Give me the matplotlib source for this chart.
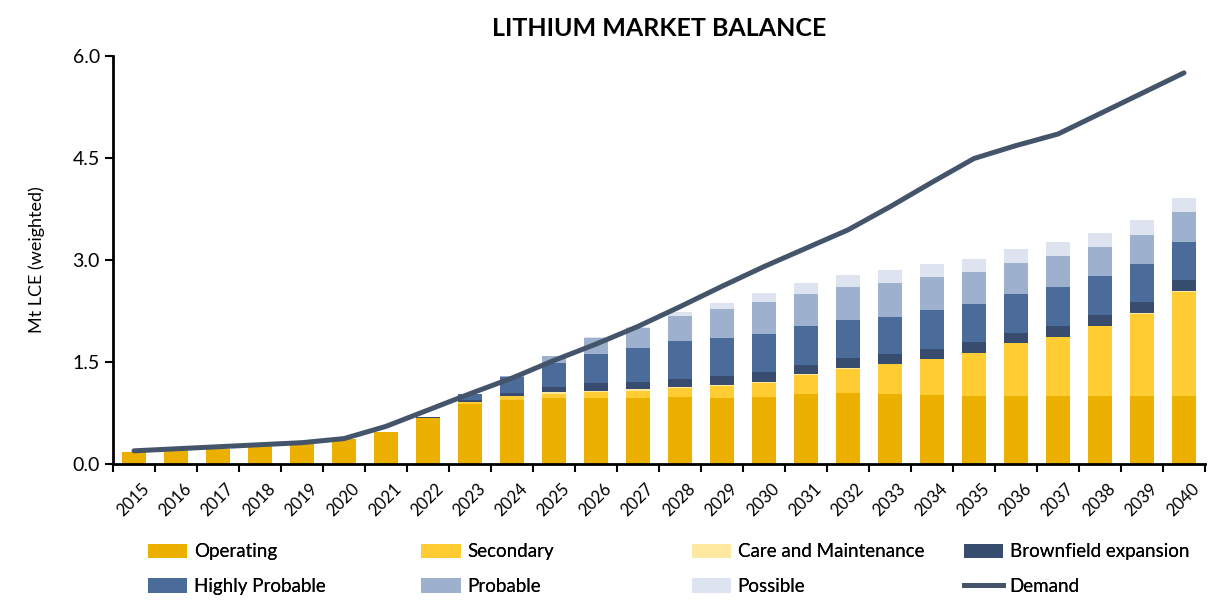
import matplotlib.pyplot as plt
import numpy as np
from matplotlib.patches import Patch
from matplotlib.lines import Line2D
from matplotlib.transforms import ScaledTranslation

plt.rcParams['font.family'] = ['Lato', 'DejaVu Sans']

#Define input arrays
years = [str(y) for y in range(2015, 2041)]

operating = [0.17, 0.20, 0.22, 0.26, 0.29, 0.36, 0.47, 0.67, 0.88, 0.94, 0.97, 0.97, 0.97,
             0.98, 0.97, 0.98, 1.03, 1.04, 1.03, 1.01, 1.00, 1.00, 1.00, 1.00, 1.00, 1.00]
secondary = [0, 0, 0, 0, 0, 0, 0, 0.005, 0.03, 0.05, 0.06, 0.09, 0.10,
             0.14, 0.18, 0.21, 0.27, 0.36, 0.43, 0.525, 0.63, 0.77, 0.86, 1.02, 1.21, 1.53]
care = [0, 0, 0, 0, 0, 0, 0, 0, 0, 0.01, 0.03, 0.015, 0.025,
        0.01, 0.005, 0.01, 0.02, 0.01, 0.005, 0.005, 0.005, 0.005, 0.005, 0.005, 0.005, 0.005]
brownfield = [0, 0, 0, 0.03, 0.05, 0, 0, 0.01, 0.03, 0.04, 0.075, 0.12, 0.105,
              0.12, 0.135, 0.15, 0.13, 0.145, 0.145, 0.15, 0.16, 0.145, 0.165, 0.165, 0.165, 0.165]
highly_probable = [0, 0, 0, 0, 0, 0, 0, 0, 0.08, 0.23, 0.34, 0.425, 0.50,
                   0.555, 0.56, 0.56, 0.58, 0.56, 0.555, 0.57, 0.56, 0.58, 0.57, 0.57, 0.56, 0.56]
probable = [0, 0, 0, 0, 0, 0, 0, 0, 0.01, 0.02, 0.105, 0.235, 0.30,
            0.365, 0.43, 0.47, 0.47, 0.485, 0.50, 0.49, 0.47, 0.45, 0.455, 0.43, 0.42, 0.44]
possible = [0, 0, 0, 0, 0, 0, 0, 0, 0, 0, 0.01, 0.015, 0.01,
            0.06, 0.085, 0.13, 0.16, 0.18, 0.18, 0.19, 0.19, 0.21, 0.205, 0.20, 0.22, 0.21]
demand = [0.19, 0.22, 0.25, 0.28, 0.31, 0.37, 0.55, 0.79, 1.03, 1.26, 1.52, 1.76, 2.02,
          2.31, 2.61, 2.90, 3.17, 3.44, 3.78, 4.14, 4.49, 4.68, 4.85, 5.15, 5.45, 5.75]

series = [
    ("Operating", operating, "#EBB000"),
    ("Secondary", secondary, "#FFCC33"),
    ("Care and Maintenance", care, "#FFE8A0"),
    ("Brownfield expansion", brownfield, "#374C6E"),
    ("Highly Probable", highly_probable, "#4B6B9B"),
    ("Probable", probable, "#9DB0CE"),
    ("Possible", possible, "#DDE4EF"),
]
demand_color = "#44546A"

x = np.arange(len(years))

fig = plt.figure(figsize=(12.19, 6.07), dpi=100)
ax = fig.add_axes([0.0927, 0.236, 0.8958, 0.672])

#stacked bars
bottom = np.zeros(len(years))
for name, vals, col in series:
    vals = np.array(vals)
    ax.bar(x, vals, 0.55, bottom=bottom, color=col, edgecolor='none')
    bottom += vals

ax.plot(x, demand, color=demand_color, lw=3.6, solid_capstyle='round', zorder=3)

ax.set_xlim(-0.5, len(years) - 0.5)
ax.set_ylim(0, 6)
ax.set_yticks([0, 1.5, 3.0, 4.5, 6.0])
ax.set_yticklabels(["0.0", "1.5", "3.0", "4.5", "6.0"], fontsize=14)
ax.tick_params(axis='y', length=6, width=1.5, direction='out')
ax.set_ylabel("Mt LCE (weighted)", fontsize=13, labelpad=20)

ax.set_xticks(np.arange(-0.5, len(years), 1))
ax.set_xticklabels([])
ax.tick_params(axis='x', which='major', length=6, width=1.5, direction='out')
ax.set_xticks(x, minor=True)
ax.set_xticklabels(years, minor=True, rotation=45, ha='right', va='top',
                   rotation_mode='anchor', fontsize=12)
ax.tick_params(axis='x', which='minor', length=0, pad=12)
shift = ScaledTranslation(7 / 100, 0, fig.dpi_scale_trans)
for lbl in ax.get_xticklabels(minor=True):
    lbl.set_transform(lbl.get_transform() + shift)

for s in ['top', 'right']:
    ax.spines[s].set_visible(False)
ax.spines['left'].set_linewidth(2)
ax.spines['bottom'].set_linewidth(2)

ax.set_title("LITHIUM MARKET BALANCE", fontsize=18, fontweight='bold', pad=14)

#legend, four columns placed by hand
handles = [Patch(facecolor=c, edgecolor='none') for _, _, c in series]
handles.append(Line2D([0], [0], color=demand_color, lw=3.6))
labels = [n for n, _, _ in series] + ["Demand"]
cols = [[0, 4], [1, 5], [2, 6], [3, 7]]
col_x = [0.1215, 0.3455, 0.5675, 0.7905]
for cx, idx in zip(col_x, cols):
    leg = fig.legend([handles[i] for i in idx], [labels[i] for i in idx],
                     loc='upper left', bbox_to_anchor=(cx, 0.105), frameon=False,
                     fontsize=13.5, handlelength=2.1, handleheight=0.8,
                     handletextpad=0.35, labelspacing=0.95, borderaxespad=0,
                     borderpad=0)
    fig.add_artist(leg)

fig.savefig("out.png", dpi=100)
